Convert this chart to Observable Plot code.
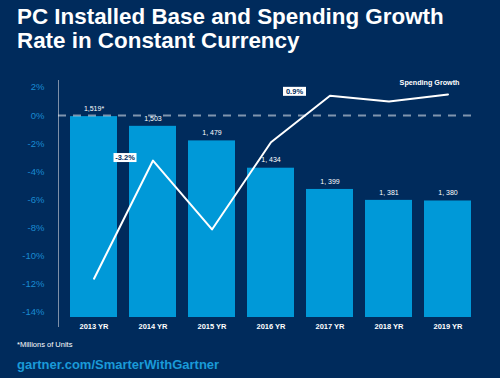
<!DOCTYPE html>
<html><head><meta charset="utf-8">
<script src="https://cdn.jsdelivr.net/npm/d3@7"></script>
<script src="https://cdn.jsdelivr.net/npm/@observablehq/plot@0.6"></script>
<style>
html,body{margin:0;padding:0;}
body{width:500px;height:378px;background:#002b5c;position:relative;overflow:hidden;font-family:"Liberation Sans",Arial,Helvetica,sans-serif;}
#title{position:absolute;left:17px;top:5px;color:#fff;font-size:22.4px;font-weight:bold;line-height:24px;margin:0;}
#chart{position:absolute;left:0;top:60px;}
#note{position:absolute;left:17px;top:340px;color:#fff;font-size:7.5px;}
#source{position:absolute;left:17px;top:357px;color:#1a9ad8;font-size:13px;font-weight:bold;}
</style></head>
<body>
<h1 id="title">PC Installed Base and Spending Growth<br>Rate in Constant Currency</h1>
<div id="chart"></div>
<div id="note">*Millions of Units</div>
<div id="source">gartner.com/SmarterWithGartner</div>
<script>
// ---- data ----
const years = ["2013 YR", "2014 YR", "2015 YR", "2016 YR", "2017 YR", "2018 YR", "2019 YR"];
const installedBase = [1519, 1503, 1479, 1434, 1399, 1381, 1380];
const baseLabels = ["1,519*", "1,503", "1, 479", "1, 434", "1, 399", "1, 381", "1, 380"];
const spendingGrowth = [-11.6, -3.2, -8.1, -1.9, 1.4, 1.0, 1.5];
const yTicks = [2, 0, -2, -4, -6, -8, -10, -12, -14];
const calloutYears = ["2014 YR", "2017 YR"];
const calloutTexts = ["-3.2%", "0.9%"];
const seriesName = "Spending Growth";

// ---- layout / styling ----
const navy = "#002b5c";
const barBlue = "#0099d8";
const tickBlue = "#1a8ad0";
const yDomain = [-15.07, 2.49];
const barBase = -14.36;
// secondary (unlabelled) scale for the installed-base bars, drawn on the % axis
const baseToY = d3.scaleLinear().domain([1380, 1519]).range([-6.075, -0.078]);
const calloutOffsets = [[-28, -3], [-35.5, -4.5]];

const rows = years.map((y, i) => ({
  year: y, base: installedBase[i], label: baseLabels[i],
  top: baseToY(installedBase[i]), growth: spendingGrowth[i]
}));

const boxSymbol = {draw(ctx) { ctx.rect(-11.5, -4.5, 23, 9); }};

const calloutMarks = calloutYears.flatMap((yr, i) => {
  const d = rows.filter(r => r.year === yr);
  const [dx, dy] = calloutOffsets[i];
  return [
    Plot.dot(d, {x: "year", y: "growth", dx, dy, symbol: boxSymbol, fill: "white", stroke: null}),
    Plot.text(d, {x: "year", y: "growth", dx, dy, text: () => calloutTexts[i], fill: navy, fontSize: 7.5, fontWeight: "bold"})
  ];
});

const chart = Plot.plot({
  width: 500, height: 280,
  marginTop: 20, marginBottom: 13, marginLeft: 64, marginRight: 23,
  style: {background: "transparent", fontFamily: "Liberation Sans, Arial, sans-serif"},
  x: {domain: years, paddingInner: 0.2, paddingOuter: 0.1},
  y: {domain: yDomain, label: null},
  marks: [
    Plot.barY(rows, {x: "year", y1: () => barBase, y2: "top", fill: barBlue}),
    Plot.ruleX([years[0]], {x: d => d, y1: () => yDomain[0], y2: () => yDomain[1], dx: -35.5, stroke: "#7d8fa8", strokeWidth: 1}),
    Plot.ruleY([0], {stroke: "white", strokeOpacity: 0.5, strokeWidth: 1.8, strokeDasharray: "8,7", insetLeft: -6, insetRight: 3}),
    Plot.axisY({ticks: yTicks, tickFormat: d => d + "%", tickSize: 0, tickPadding: 20, fill: tickBlue, fontSize: 9.5, label: null}),
    Plot.axisX({tickSize: 0, tickPadding: -4, fill: "white", fontSize: 7.5, fontWeight: "bold", label: null}),
    Plot.text(rows, {x: "year", y: "top", text: "label", dy: -8, fill: "white", fontSize: 7}),
    Plot.line(rows, {x: "year", y: "growth", stroke: "white", strokeWidth: 2}),
    Plot.text(rows.slice(-1), {x: "year", y: "growth", text: () => seriesName, textAnchor: "end", dx: 11.5, dy: -11.5, fill: "white", fontSize: 7.2, fontWeight: "bold"}),
    ...calloutMarks
  ]
});
document.getElementById("chart").appendChild(chart);
</script>
</body></html>
